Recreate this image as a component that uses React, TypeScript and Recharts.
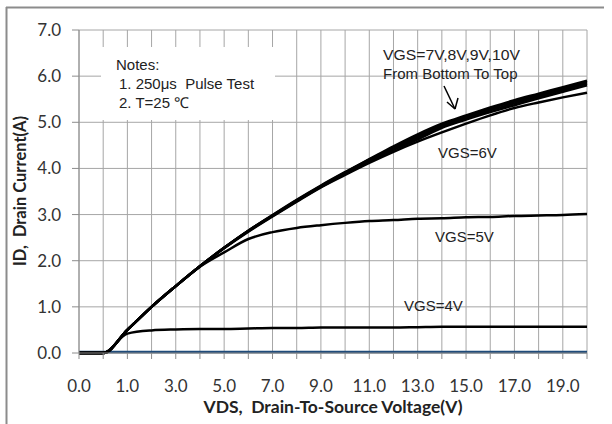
import React from 'react';
import { LineChart, Line, XAxis, YAxis, CartesianGrid } from 'recharts';

// Drain-to-source voltage categories (V)
const vdsValues = [0, 0.5, 1, 2, 3, 4, 5, 6, 7, 8, 9, 10, 11, 12, 13, 14, 15, 16, 17, 18, 19, 20];

// Drain current (A) per gate voltage
const idVgs3 = [0.02, 0.02, 0.02, 0.02, 0.02, 0.02, 0.02, 0.02, 0.02, 0.02, 0.02, 0.02, 0.02, 0.02, 0.02, 0.02, 0.02, 0.02, 0.02, 0.02, 0.02, 0.02];
const idVgs4 = [0, 0, 0.42, 0.49, 0.51, 0.52, 0.52, 0.53, 0.54, 0.54, 0.55, 0.55, 0.55, 0.55, 0.56, 0.57, 0.57, 0.57, 0.57, 0.57, 0.57, 0.57];
const idVgs5 = [0, 0, 0.5, 1.0, 1.45, 1.87, 2.18, 2.47, 2.62, 2.71, 2.77, 2.82, 2.86, 2.88, 2.91, 2.92, 2.94, 2.95, 2.97, 2.98, 2.99, 3.01];
const idVgs6 = [0, 0, 0.5, 1.0, 1.45, 1.88, 2.27, 2.63, 2.96, 3.28, 3.59, 3.86, 4.12, 4.36, 4.58, 4.78, 4.97, 5.15, 5.31, 5.43, 5.54, 5.64];
const idVgs7 = [0, 0, 0.5, 1.0, 1.45, 1.88, 2.28, 2.64, 2.97, 3.29, 3.6, 3.88, 4.15, 4.4, 4.63, 4.88, 5.06, 5.22, 5.37, 5.52, 5.66, 5.8];
const idVgs8 = [0, 0, 0.5, 1.0, 1.45, 1.88, 2.28, 2.65, 2.98, 3.3, 3.61, 3.9, 4.17, 4.43, 4.67, 4.91, 5.09, 5.26, 5.41, 5.56, 5.7, 5.84];
const idVgs9 = [0, 0, 0.5, 1.0, 1.45, 1.88, 2.28, 2.65, 2.98, 3.31, 3.62, 3.91, 4.19, 4.45, 4.7, 4.94, 5.12, 5.29, 5.45, 5.59, 5.73, 5.87];
const idVgs10 = [0, 0, 0.5, 1.0, 1.45, 1.88, 2.28, 2.65, 2.99, 3.32, 3.63, 3.92, 4.2, 4.48, 4.74, 4.97, 5.15, 5.32, 5.48, 5.62, 5.76, 5.9];

const yTicks = [0, 1, 2, 3, 4, 5, 6, 7];

const data = vdsValues.map((v, i) => ({
  vds: v,
  vgs3: idVgs3[i],
  vgs4: idVgs4[i],
  vgs5: idVgs5[i],
  vgs6: idVgs6[i],
  vgs7: idVgs7[i],
  vgs8: idVgs8[i],
  vgs9: idVgs9[i],
  vgs10: idVgs10[i],
}));

const tickFont = { fontFamily: 'Lato, "Open Sans", sans-serif', fontSize: 17, fill: '#333' };
const noteFont = { fontFamily: '"Liberation Sans", Arial, sans-serif', fontSize: 15, fill: '#222' };
const titleFontX = { fontFamily: 'Lato, "Open Sans", sans-serif', fontSize: 17.5, fontWeight: 700, fill: '#222' };
const titleFontY = { fontFamily: 'Lato, "Open Sans", sans-serif', fontSize: 16.5, fontWeight: 700, fill: '#222' };
const pre = { whiteSpace: 'pre' as const };

const XTick = (props: any) => {
  const { x, y, payload } = props;
  const idx = payload && payload.index !== undefined ? payload.index : props.index;
  if (idx % 2 !== 0) return <g />;
  return (
    <text x={x} y={y} dy={31} textAnchor="middle" {...tickFont}>
      {Number(payload.value).toFixed(1)}
    </text>
  );
};

const blackLines = ['vgs4', 'vgs5', 'vgs6', 'vgs7', 'vgs8', 'vgs9', 'vgs10'];

export default function App() {
  return (
    <div style={{ position: 'absolute', left: 0, top: 0, width: 612, height: 424, background: '#fff' }}>
      <LineChart
        width={612}
        height={424}
        data={data}
        margin={{ top: 30, right: 25, bottom: 0, left: 0 }}
      >
        <CartesianGrid stroke="#a6a6a6" strokeWidth={1} />
        <XAxis
          dataKey="vds"
          type="category"
          interval={0}
          height={71}
          tickSize={6}
          tickMargin={2}
          stroke="#8c8c8c"
          tick={<XTick />}
          label={{
            content: () => (
              <text x={333} y={413} textAnchor="middle" style={pre} {...titleFontX}>
                {'VDS,  Drain-To-Source Voltage(V)'}
              </text>
            ),
          }}
        />
        <YAxis
          type="number"
          domain={[0, 7]}
          ticks={yTicks}
          interval={0}
          width={79}
          tickSize={7}
          tickMargin={11}
          stroke="#8c8c8c"
          tick={tickFont}
          tickFormatter={(v: number) => v.toFixed(1)}
          label={{
            content: () => (
              <text x={26} y={191} textAnchor="middle" transform="rotate(-90 26 191)" style={pre} {...titleFontY}>
                {'ID,  Drain Current(A)'}
              </text>
            ),
          }}
        />
        <Line
          dataKey="vgs3"
          type="monotone"
          stroke="#1f4b7a"
          strokeWidth={2.5}
          dot={false}
          isAnimationActive={false}
        />
        {blackLines.map((k) => (
          <Line
            key={k}
            dataKey={k}
            type="monotone"
            stroke="#000"
            strokeWidth={2.5}
            dot={false}
            isAnimationActive={false}
          />
        ))}
      </LineChart>
      <svg
        width={612}
        height={424}
        style={{ position: 'absolute', left: 0, top: 0, pointerEvents: 'none' }}
      >
        <line x1={6} y1={7.5} x2={604} y2={7.5} stroke="#8c8c8c" strokeWidth={2} />
        <line x1={6.5} y1={7} x2={6.5} y2={424} stroke="#8c8c8c" strokeWidth={2} />
        <rect x={101} y={47} width={174} height={73} fill="#fff" />
        <text x={116} y={70} {...noteFont}>Notes:</text>
        <text x={119} y={89} style={pre} {...noteFont}>{'1. 250μs  Pulse Test'}</text>
        <text x={119} y={108} style={pre} {...noteFont}>{'2. T=25 ℃'}</text>
        <text x={383} y={60} textLength={137} lengthAdjust="spacingAndGlyphs" {...noteFont}>VGS=7V,8V,9V,10V</text>
        <text x={383} y={79} {...noteFont}>From Bottom To Top</text>
        <line x1={444} y1={86} x2={455} y2={109} stroke="#000" strokeWidth={1.5} />
        <line x1={455} y1={109} x2={447} y2={102} stroke="#000" strokeWidth={1.5} />
        <line x1={455} y1={109} x2={458} y2={98} stroke="#000" strokeWidth={1.5} />
        <text x={438} y={158} {...noteFont}>VGS=6V</text>
        <text x={435} y={242} {...noteFont}>VGS=5V</text>
        <text x={404} y={311} {...noteFont}>VGS=4V</text>
      </svg>
    </div>
  );
}
